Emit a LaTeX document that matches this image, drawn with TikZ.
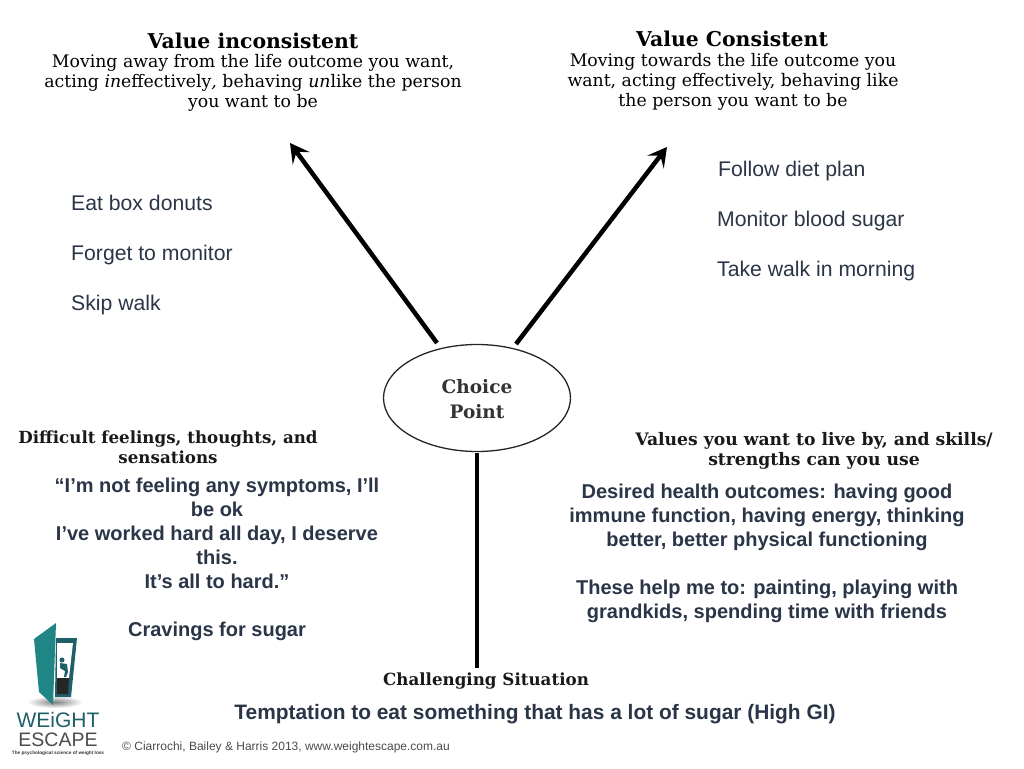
\documentclass[tikz,border=0pt]{standalone}
\usepackage{fontspec}
\setmainfont{Liberation Sans}
\newfontfamily\serifhead{DejaVu Serif}
\usetikzlibrary{arrows.meta,shapes.geometric}
\definecolor{txt}{HTML}{2A3547}
\definecolor{teal1}{HTML}{1F8585}
\definecolor{teal2}{HTML}{1E5F68}
\tikzset{
 body/.style={font=\fontsize{20}{24}\selectfont\bfseries,text=txt,align=center,inner sep=0pt},
 listitem/.style={font=\fontsize{21.2}{24}\selectfont,text=txt,anchor=base west,inner sep=0pt},
 head/.style={font=\serifhead\fontsize{20.4}{20}\selectfont\bfseries,align=center,inner sep=0pt,text=black},
 smallhead/.style={font=\serifhead\fontsize{16.7}{20.5}\selectfont\bfseries,align=center,inner sep=0pt,text=black!90},
 sub/.style={font=\serifhead\fontsize{17.3}{20.3}\selectfont,align=center,inner sep=0pt,text=black},
 conn/.style={draw=black,line width=4.5pt},
 arrowc/.style={conn,-{Stealth[length=19pt,width=21pt,inset=8pt]}},
}
\begin{document}
\begin{tikzpicture}[x=1pt,y=-1pt]
\useasboundingbox (0,0) rectangle (1024,768);
\fill[white] (0,0) rectangle (1024,768);
% headers
\node[head] (vi) at (253,41) {Value inconsistent};
\node[sub] (visub) at (253,83) {Moving away from the life outcome you want,\\acting \textit{in}effectively\textit{,} behaving \textit{un}like the person\\you want to be};
\node[head] (vc) at (732,39) {Value Consistent};
\node[sub] (vcsub) at (733,82) {Moving towards the life outcome you\\want, acting effectively, behaving like\\the person you want to be};
% lists
\node[listitem] (l1) at (71,210) {Eat box donuts};
\node[listitem] (l2) at (71,260) {Forget to monitor};
\node[listitem] (l3) at (71,310) {Skip walk};
\node[listitem] (r1) at (718,176) {Follow diet plan};
\node[listitem] (r2) at (717,226) {Monitor blood sugar};
\node[listitem] (r3) at (717,276) {Take walk in morning};
% choice point
\node[draw=black!85,line width=1.3pt,ellipse,minimum width=187pt,minimum height=107pt,inner sep=0pt] (cp) at (477,398) {};
\node[font=\serifhead\fontsize{18.5}{24.5}\selectfont\bfseries,align=center,text=black!80,inner sep=0pt] (cpt) at (477,399) {Choice\\Point};
% connectors
\coordinate (a1) at (290,143);
\coordinate (a2) at (667,147);
\coordinate (s) at (477,668);
\draw[arrowc] (437,343) -- (a1);
\draw[arrowc] (516,344) -- (a2);
\draw[conn] (477,453) -- (s);
% section heads
\node[smallhead] (df) at (168,447.5) {Difficult feelings, thoughts, and\\sensations};
\node[smallhead,font=\serifhead\fontsize{17.2}{20.5}\selectfont\bfseries] (vl) at (814,451) {Values you want to live by, and skills/\\strengths can you use};
\node[smallhead] (cs) at (486,681.5) {Challenging Situation};
% texts
\node[body,anchor=north] (t1) at (217,478) {“I’m not feeling any symptoms, I’ll\\be ok\\I’ve worked hard all day, I deserve\\this.\\It’s all to hard.”\\[24pt]Cravings for sugar};
\node[body,anchor=north] (t2) at (767,484) {Desired health outcomes: having good\\immune function, having energy, thinking\\better, better physical functioning\\[24pt]These help me to: painting, playing with\\grandkids, spending time with friends};
\node[body,font=\fontsize{20.9}{24}\selectfont\bfseries] (t3) at (535,714) {Temptation to eat something that has a lot of sugar (High GI)};
\node[font=\fontsize{12}{14}\selectfont,text=black!70,anchor=west,inner sep=0pt] (cr) at (122,747) {© Ciarrochi, Bailey \& Harris 2013, www.weightescape.com.au};
% logo
\shade[inner color=black!50,outer color=white] (55,702) ellipse (28 and 6);
\fill[teal2] (56,638) -- (77,638) -- (71,697) -- (55,697) -- cycle;
\fill[white] (57,643) -- (73,643) -- (69,678) -- (57,678) -- cycle;
\fill[black!85] (57,678) -- (69,678) -- (68,694) -- (57,694) -- cycle;
\fill[teal2] (62,660) circle (2.5);
\fill[teal2] (60,663) -- (67,664) -- (68,672) -- (66,677) -- (64,677) -- (65,671) -- (60,668) -- cycle;
\fill[teal1] (34,639) -- (56,623) -- (53,705) -- (39,692) -- cycle;
\node[font=\fontsize{21}{21}\selectfont,text=teal2,inner sep=0pt] (lg1) at (58,720) {WEiGHT};
\node[font=\fontsize{19.5}{20}\selectfont,text=black!70,inner sep=0pt] (lg2) at (58,740) {ESCAPE};
\node[font=\fontsize{4.7}{5}\selectfont\bfseries,text=black!80,inner sep=0pt] (lg3) at (58,753.5) {The psychological science of weight loss};
\end{tikzpicture}
\end{document}
